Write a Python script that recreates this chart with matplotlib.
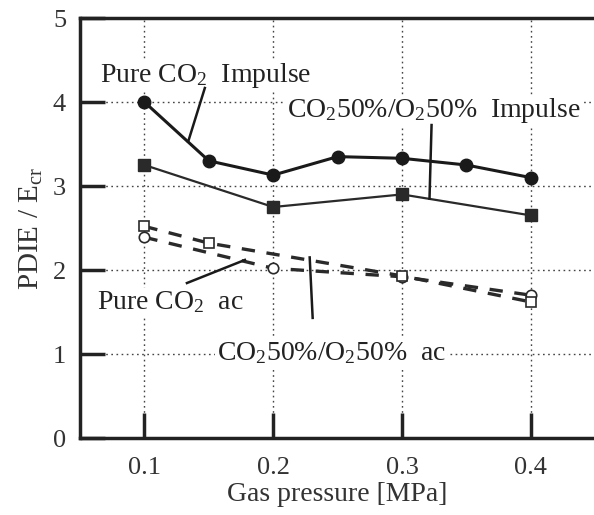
import matplotlib
matplotlib.use("Agg")
import matplotlib.pyplot as plt

plt.rcParams['font.family'] = ['Liberation Serif', 'DejaVu Serif']
plt.rcParams['mathtext.fontset'] = 'custom'
plt.rcParams['mathtext.rm'] = 'Liberation Serif'
plt.rcParams['mathtext.it'] = 'Liberation Serif:italic'

# data
p_co2_imp = [0.1, 0.15, 0.2, 0.25, 0.3, 0.35, 0.4]
v_co2_imp = [4.0, 3.3, 3.13, 3.35, 3.33, 3.25, 3.1]

p_mix_imp = [0.1, 0.2, 0.3, 0.4]
v_mix_imp = [3.25, 2.75, 2.9, 2.65]

p_co2_ac = [0.1, 0.2, 0.3, 0.4]
v_co2_ac = [2.39, 2.02, 1.92, 1.70]

p_mix_ac = [0.1, 0.15, 0.3, 0.4]
v_mix_ac = [2.52, 2.32, 1.93, 1.62]

xticks = [0.1, 0.2, 0.3, 0.4]
yticks = [0, 1, 2, 3, 4, 5]

fig = plt.figure(figsize=(5.94, 5.15), dpi=100)
ax = fig.add_axes([0.1347, 0.1495, 0.8653, 0.8155])

ax.plot(p_co2_imp, v_co2_imp, '-o', color='#1a1a1a', lw=2.2, ms=9, zorder=4)
ax.plot(p_mix_imp, v_mix_imp, '-s', color='#2a2a2a', lw=1.6, ms=8.5, zorder=4)
ax.plot(p_co2_ac, v_co2_ac, '--o', color='#2a2a2a', lw=2.4, ms=7.5,
        mfc='white', mew=1.2, dashes=(4, 3.5), zorder=4)
ax.plot(p_mix_ac, v_mix_ac, '--s', color='#2a2a2a', lw=2.4, ms=7.5,
        mfc='white', mew=1.2, dashes=(4, 3.5), zorder=4)

ax.set_xlim(0.05, 0.449)
ax.set_ylim(0, 5)
ax.set_xticks(xticks)
ax.set_yticks(yticks)
ax.set_xticklabels(['0.1', '0.2', '0.3', '0.4'])
ax.tick_params(direction='in', length=18, width=2.5, labelsize=19,
               color='#222222', labelcolor='#333333', pad=10)
ax.tick_params(axis='x', pad=14)
ax.grid(True, linestyle=(0, (1.2, 2.5)), color='#444444', lw=1.0)
ax.spines['right'].set_visible(False)
for s in ['left', 'bottom', 'top']:
    ax.spines[s].set_linewidth(2.5)
    ax.spines[s].set_color('#222222')

ax.set_xlabel('Gas pressure [MPa]', fontsize=20, color='#333333', labelpad=2)
ax.set_ylabel('PDIE / E$_{\\rm cr}$', fontsize=21, color='#333333', labelpad=6)

box = dict(facecolor='white', edgecolor='none', pad=1)
ax.text(0.0655, 4.32, 'Pure CO$_2$  Impulse', fontsize=20, color='#222222',
        va='center', ha='left', bbox=box, zorder=3)
ax.text(0.2105, 3.9, 'CO$_2$50%/O$_2$50%  Impulse', fontsize=20, color='#222222',
        va='center', ha='left', bbox=box, zorder=3)
ax.text(0.0632, 1.62, 'Pure CO$_2$  ac', fontsize=20, color='#222222',
        va='center', ha='left', bbox=box, zorder=3)
ax.text(0.156, 1.01, 'CO$_2$50%/O$_2$50%  ac', fontsize=20, color='#222222',
        va='center', ha='left', bbox=box, zorder=3)

# pointer lines
ax.plot([0.1469, 0.134], [4.167, 3.53], color='#1a1a1a', lw=1.8, zorder=4)
ax.plot([0.3229, 0.3213], [3.726, 2.85], color='#1a1a1a', lw=1.8, zorder=4)
ax.plot([0.133, 0.178], [1.845, 2.12], color='#1a1a1a', lw=1.8, zorder=4)
ax.plot([0.2306, 0.2283], [1.43, 2.15], color='#1a1a1a', lw=1.8, zorder=4)

fig.savefig('out.png', dpi=100)
